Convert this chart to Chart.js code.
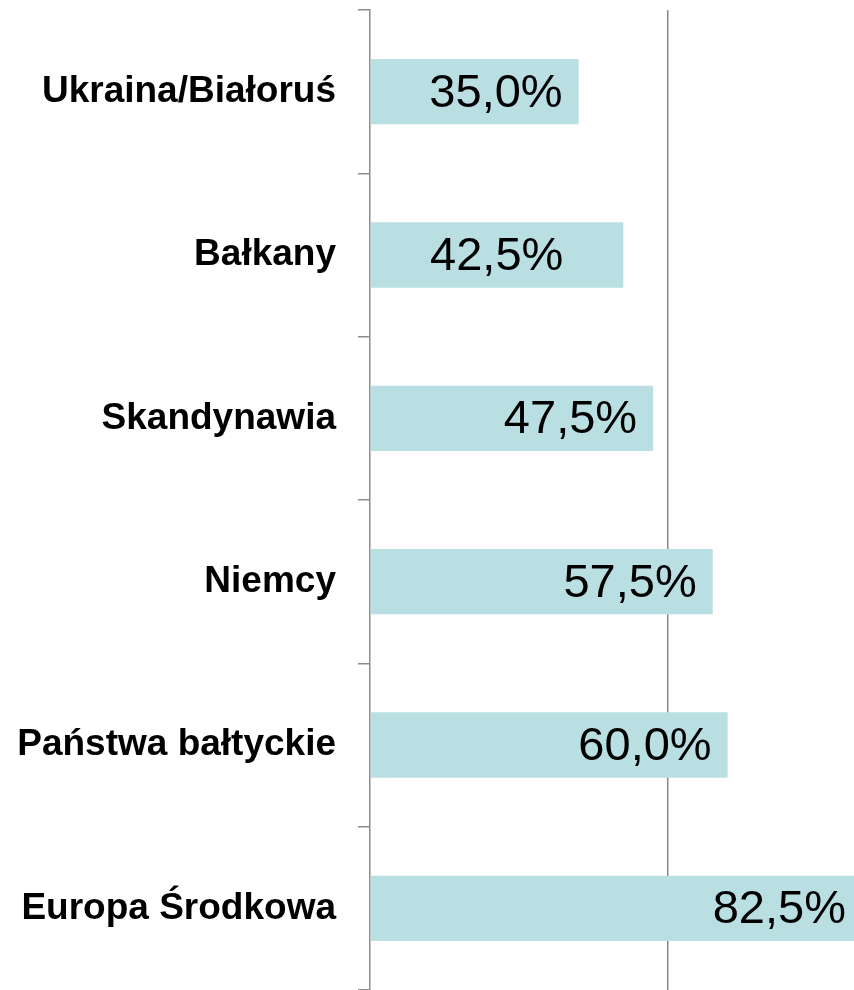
<!DOCTYPE html>
<html lang="pl">
<head>
<meta charset="utf-8">
<script src="https://cdn.jsdelivr.net/npm/chart.js@4.4.1/dist/chart.umd.min.js"></script>
<style>
  html, body { margin: 0; padding: 0; background: #fff; }
  #wrap { width: 854px; height: 990px; position: relative; }
</style>
</head>
<body>
<div id="wrap"><canvas id="regionChart"></canvas></div>
<script>
// dane wykresu
const regiony = ['Ukraina/Białoruś', 'Bałkany', 'Skandynawia', 'Niemcy', 'Państwa bałtyckie', 'Europa Środkowa'];
const udzialy = [35.0, 42.5, 47.5, 57.5, 60.0, 82.5];
const etykiety = ['35,0%', '42,5%', '47,5%', '57,5%', '60,0%', '82,5%'];

// wykres jest przycięty z prawej strony, stąd max poniżej 100
const osMax = 81.2;

// etykiety wartości w środku słupka, przy jego końcu
const etykietyPlugin = {
    id: 'etykietyWartosci',
    afterDatasetsDraw(chart) {
        const ctx = chart.ctx;
        const area = chart.chartArea;
        const meta = chart.getDatasetMeta(0);
        ctx.save();
        ctx.font = '47px "Liberation Sans", Arial, sans-serif';
        ctx.fillStyle = '#000';
        ctx.textAlign = 'right';
        ctx.textBaseline = 'middle';
        meta.data.forEach((bar, i) => {
            let x = bar.x > area.right ? area.right - 8 : bar.x - 16;
            if (i === 1) x -= 44; // ta etykieta w oryginale jest przesunięta w lewo
            ctx.fillText(etykiety[i], x, bar.y + 2);
        });
        ctx.restore();
    }
};

const ctx = document.getElementById('regionChart').getContext('2d');
new Chart(ctx, {
    type: 'bar',
    data: {
        labels: regiony,
        datasets: [{
            data: udzialy,
            backgroundColor: '#b9dfe3',
            borderWidth: 0,
            categoryPercentage: 0.4,
            barPercentage: 1.0
        }]
    },
    options: {
        indexAxis: 'y',
        responsive: true,
        maintainAspectRatio: false,
        animation: false,
        layout: { padding: { top: 10, bottom: 0, left: 0, right: 0 } },
        scales: {
            x: {
                min: 0,
                max: osMax,
                ticks: { display: false, stepSize: 50 },
                border: { display: false },
                grid: {
                    drawTicks: false,
                    lineWidth: 1.5,
                    color: c => (c.tick && c.tick.value === 50 ? '#878787' : 'rgba(0,0,0,0)')
                },
                afterFit: s => { s.height = 0; s.paddingLeft = 0; s.paddingRight = 0; }
            },
            y: {
                border: { display: true, color: '#8c8c8c', width: 1.5 },
                grid: {
                    drawOnChartArea: false,
                    drawTicks: true,
                    tickLength: 12,
                    color: '#8c8c8c',
                    lineWidth: 1.5
                },
                ticks: {
                    color: '#000',
                    padding: 22,
                    font: { family: '"Liberation Sans", Arial, sans-serif', size: 37, weight: 'bold' }
                },
                afterFit: s => { s.width = 370; s.paddingTop = 0; s.paddingBottom = 0; }
            }
        },
        plugins: {
            legend: { display: false },
            tooltip: { enabled: false }
        }
    },
    plugins: [etykietyPlugin]
});
</script>
</body>
</html>
